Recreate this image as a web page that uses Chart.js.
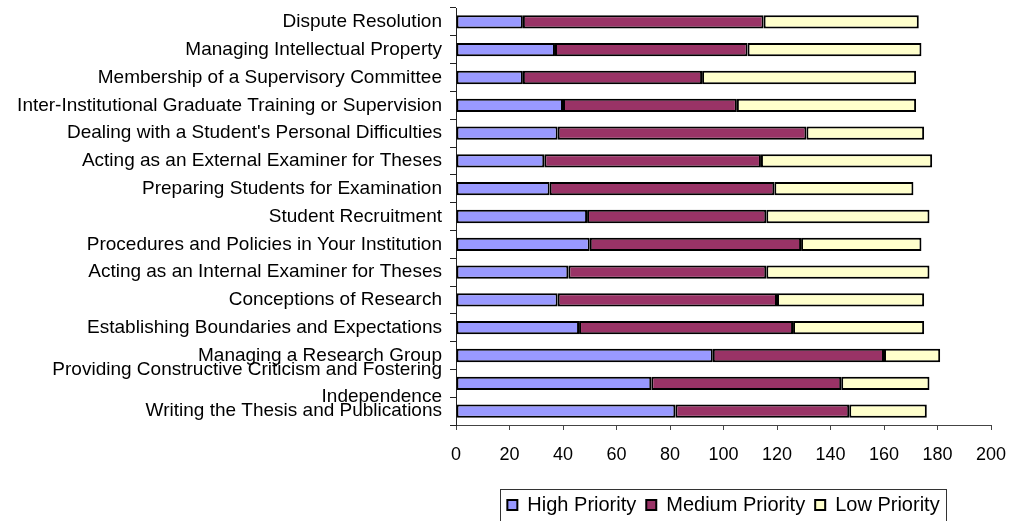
<!DOCTYPE html>
<html>
<head>
<meta charset="utf-8">
<script src="https://cdn.jsdelivr.net/npm/chart.js@4/dist/chart.umd.min.js"></script>
<style>
    html, body { margin: 0; padding: 0; background: #fff; }
    #priorityChart { display: block; }
</style>
</head>
<body>
<canvas id="priorityChart" width="1011" height="521"></canvas>
<script>
const topics = [
    'Dispute Resolution',
    'Managing Intellectual Property',
    'Membership of a Supervisory Committee',
    'Inter-Institutional Graduate Training or Supervision',
    "Dealing with a Student's Personal Difficulties",
    'Acting as an External Examiner for Theses',
    'Preparing Students for Examination',
    'Student Recruitment',
    'Procedures and Policies in Your Institution',
    'Acting as an Internal Examiner for Theses',
    'Conceptions of Research',
    'Establishing Boundaries and Expectations',
    'Managing a Research Group',
    ['Providing Constructive Criticism and Fostering', 'Independence'],
    'Writing the Thesis and Publications'
];

const highPriority = [25, 37, 25, 40, 38, 33, 35, 49, 50, 42, 38, 46, 96, 73, 82];
const mediumPriority = [90, 72, 67, 65, 93, 81, 84, 67, 79, 74, 82, 80, 64, 71, 65];
const lowPriority = [58, 65, 80, 67, 44, 64, 52, 61, 45, 61, 55, 49, 21, 33, 29];

const xTicks = [0, 20, 40, 60, 80, 100, 120, 140, 160, 180, 200];

const fontFamily = "'Liberation Sans', Arial, sans-serif";

// frame drawn around the legend items
const legendFrame = {
    id: 'legendFrame',
    afterDraw(chart) {
        const boxes = chart.legend && chart.legend.legendHitBoxes;
        if (!boxes || !boxes.length) return;
        const left = Math.min(...boxes.map(b => b.left)) - 7;
        const right = Math.max(...boxes.map(b => b.left + b.width)) + 7;
        const top = Math.min(...boxes.map(b => b.top)) - 6;
        const ctx = chart.ctx;
        ctx.save();
        ctx.strokeStyle = '#333';
        ctx.lineWidth = 1;
        ctx.strokeRect(Math.round(left) + 0.5, Math.round(top) + 0.5, Math.round(right - left), 60);
        ctx.restore();
    }
};

function barSet(label, data, color) {
    return {
        label: label,
        data: data,
        backgroundColor: color,
        borderColor: '#000',
        borderWidth: 2,
        borderSkipped: false,
        categoryPercentage: 1,
        barPercentage: 0.48
    };
}

new Chart(document.getElementById('priorityChart').getContext('2d'), {
    type: 'bar',
    data: {
        labels: topics,
        datasets: [
            barSet('High Priority', highPriority, '#9999ff'),
            barSet('Medium Priority', mediumPriority, '#993366'),
            barSet('Low Priority', lowPriority, '#ffffcc')
        ]
    },
    options: {
        indexAxis: 'y',
        responsive: false,
        animation: false,
        layout: {
            // legend frame runs off the bottom edge
            padding: { top: 8, right: 20, left: 0, bottom: -4 }
        },
        scales: {
            x: {
                stacked: true,
                min: 0,
                max: 200,
                afterBuildTicks: scale => {
                    scale.ticks = xTicks.map(v => ({ value: v }));
                },
                afterFit: scale => {
                    scale.height = 60;
                    scale.paddingLeft = 0;
                    scale.paddingRight = 0;
                },
                border: { display: true, color: '#444', width: 1 },
                grid: { drawOnChartArea: false, drawTicks: true, tickLength: 5, color: '#444' },
                ticks: {
                    color: '#000',
                    padding: 14,
                    maxRotation: 0,
                    font: { family: fontFamily, size: 18 }
                }
            },
            y: {
                stacked: true,
                afterFit: scale => {
                    scale.width = 456;
                    scale.paddingTop = 0;
                    scale.paddingBottom = 0;
                },
                border: { display: true, color: '#222', width: 1 },
                grid: { offset: true, drawOnChartArea: false, drawTicks: true, tickLength: 6, color: '#222' },
                ticks: {
                    color: '#000',
                    padding: 8,
                    autoSkip: false,
                    font: { family: fontFamily, size: 19, lineHeight: 1.4 }
                }
            }
        },
        plugins: {
            legend: {
                position: 'bottom',
                fullSize: false,
                labels: {
                    color: '#000',
                    boxWidth: 10,
                    boxHeight: 10,
                    padding: 10,
                    font: { family: fontFamily, size: 20 }
                }
            },
            tooltip: { enabled: false }
        }
    },
    plugins: [legendFrame]
});
</script>
</body>
</html>
